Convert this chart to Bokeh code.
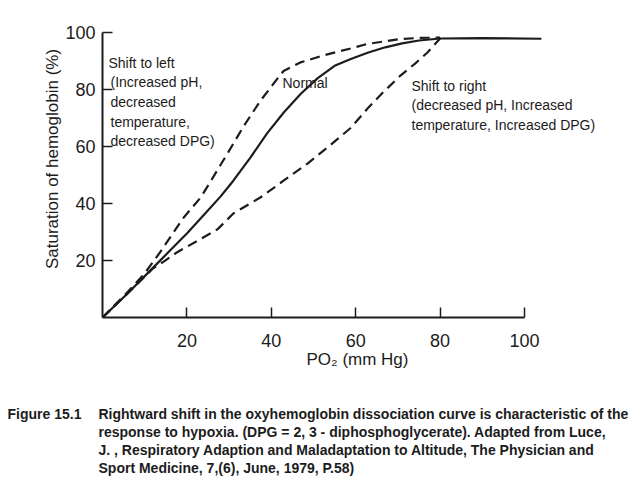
from bokeh.plotting import figure
from bokeh.layouts import column
from bokeh.models import Label, FixedTicker, Range1d
from bokeh.embed import file_html
from bokeh.resources import INLINE

# ---- data ----
po2_normal = [0, 6, 12, 16, 20, 24, 28, 31, 35, 39, 43, 47, 51, 55, 59, 63, 67, 71, 75, 80, 90, 104]
sat_normal = [0, 8.5, 17.5, 23.5, 29.5, 36, 42.5, 48, 56, 64.6, 72, 78.5, 84, 88.3, 90.8, 93, 94.8, 96.2, 97.2, 97.9, 98, 97.8]

po2_left = [0, 6, 10, 13.7, 19.2, 23.2, 24.9, 29.6, 33.4, 37.4, 40.5, 42.9, 46.9, 52.4, 58.8, 62.8, 70.6, 75, 80]
sat_left = [0, 9, 15.5, 23, 35, 42, 46, 57.5, 67, 76, 82, 86.5, 89.5, 92, 94.4, 96, 97.7, 98.1, 98.2]

po2_right = [0, 6, 12, 14.5, 17.8, 23.2, 27.3, 31, 37.4, 42.9, 48.6, 54.4, 58.8, 62.8, 66.5, 70.6, 74, 77, 80]
sat_right = [0, 8.5, 17.3, 19.6, 23, 27.5, 31, 36.5, 42.1, 48, 54, 61, 66.5, 73.3, 79, 84.9, 89, 93, 97.9]

x_ticks = [20, 40, 60, 80, 100]
y_ticks = [20, 40, 60, 80, 100]

left_text = ["Shift to left", "(Increased pH,", "decreased", "temperature,", "decreased DPG)"]
right_text = ["Shift to right", "(decreased pH, Increased", "temperature, Increased DPG)"]
normal_text = "Normal"
caption_tag = "Figure 15.1"
caption_lines = [
    "Rightward shift in the oxyhemoglobin dissociation curve is characteristic of the",
    "response to hypoxia.  (DPG = 2, 3 - diphosphoglycerate). Adapted from Luce,",
    "J. , Respiratory Adaption and Maladaptation to Altitude, The Physician and",
    "Sport Medicine, 7,(6), June, 1979, P.58)",
]

# ---- layout ----
W, H = 640, 390
ML, MR, MT, MB = 102, 28, 0, 73
XS = 4.22   # px per PO2 unit
YS = 2.85   # px per saturation unit
X_END = (W - ML - MR) / XS
Y_END = (H - MT - MB) / YS
CAP_H = 90

INK = "#1c1c1c"
FONT = "Liberation Sans"

p = figure(width=W, height=H, output_backend="svg", toolbar_location=None,
           x_range=(0, X_END), y_range=(0, Y_END),
           min_border_left=ML, min_border_right=MR, min_border_top=MT, min_border_bottom=MB)
p.outline_line_color = None
p.grid.visible = False
p.background_fill_color = "white"
p.border_fill_color = "white"
p.frame_align = False

for ax, tk in ((p.xaxis[0], x_ticks), (p.yaxis[0], y_ticks)):
    ax.ticker = FixedTicker(ticks=tk)
    ax.bounds = (0, 100)
    ax.axis_line_width = 2
    ax.axis_line_color = INK
    ax.major_tick_line_color = INK
    ax.major_tick_line_width = 1.5
    ax.major_tick_in = 10
    ax.major_tick_out = 0
    ax.minor_tick_line_color = None
    ax.major_label_text_font = FONT
    ax.major_label_text_font_size = "18px"
    ax.major_label_text_color = INK
    ax.axis_label_text_font = FONT
    ax.axis_label_text_font_style = "normal"
    ax.axis_label_text_font_size = "17px"
    ax.axis_label_text_color = INK

p.xaxis.axis_label = "PO\u2082 (mm Hg)"
p.xaxis.major_label_standoff = 16
p.xaxis.axis_label_standoff = 0
p.yaxis.axis_label = "Saturation of hemoglobin (%)"
p.yaxis.major_label_standoff = 7
p.yaxis.axis_label_standoff = 0

p.line(po2_normal, sat_normal, line_color=INK, line_width=2.2)
p.line(po2_left, sat_left, line_color=INK, line_width=2.2, line_dash="10 6")
p.line(po2_right, sat_right, line_color=INK, line_width=2.2, line_dash="10 6")


def X(px):
    return (px - ML) / XS


def Y(py):
    return (H - MB - py) / YS


def put(fig, txt, x, y, size="14px", style="normal"):
    fig.add_layout(Label(x=x, y=y, text=txt, text_font=FONT, text_font_size=size,
                         text_font_style=style, text_color=INK, text_align="left",
                         text_baseline="middle"))


for i, t in enumerate(left_text):
    put(p, t, X(108 if i == 0 else 110), Y(62 + i * 19.7))
put(p, normal_text, X(282), Y(82))
for i, t in enumerate(right_text):
    put(p, t, X(411), Y(85 + i * 19.5))

# caption panel (pixel-like coordinates, y grows downward)
c = figure(width=W, height=CAP_H, output_backend="svg", toolbar_location=None,
           x_range=Range1d(0, W), y_range=Range1d(CAP_H, 0),
           x_axis_location=None, y_axis_location=None,
           min_border_left=0, min_border_right=0, min_border_top=0, min_border_bottom=0)
c.outline_line_color = None
c.grid.visible = False
c.background_fill_color = "white"
c.border_fill_color = "white"
c.frame_align = False

put(c, caption_tag, 7, 413 - H, size="14px", style="bold")
for i, t in enumerate(caption_lines):
    put(c, t, 98, 413 - H + i * 18.3, size="14px", style="bold")

layout = column(p, c, spacing=0)
open("out.html", "w").write(file_html(layout, INLINE))
